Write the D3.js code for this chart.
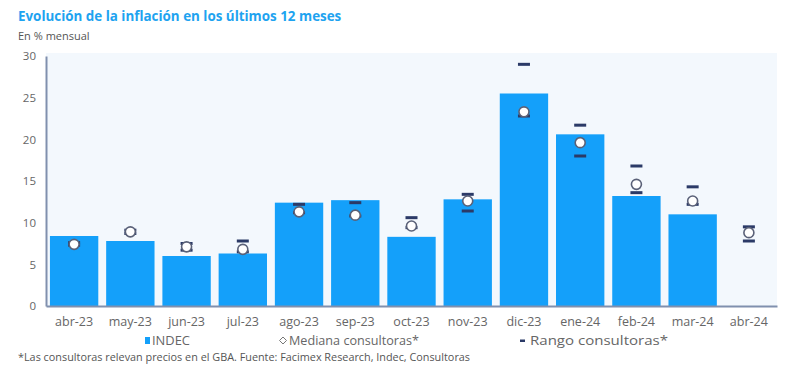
<!DOCTYPE html>
<html><head><meta charset="utf-8">
<script src="https://cdn.jsdelivr.net/npm/d3@7"></script>
<style>body{margin:0;background:#fff;}svg{display:block;font-family:"Open Sans",sans-serif;}</style>
</head><body><svg id="c" width="800" height="372"></svg>
<script>
const months = ["abr-23","may-23","jun-23","jul-23","ago-23","sep-23","oct-23","nov-23","dic-23","ene-24","feb-24","mar-24","abr-24"];
const indec = [8.4,7.8,6.0,6.3,12.4,12.7,8.3,12.8,25.5,20.6,13.2,11.0,null];
const mediana = [7.4,8.9,7.1,6.8,11.3,10.9,9.6,12.6,23.3,19.6,14.6,12.6,8.8];
const rangoMax = [7.6,9.1,7.5,7.8,12.2,12.4,10.6,13.4,29.0,21.7,16.8,14.3,9.5];
const rangoMin = [7.3,8.7,6.7,6.5,11.2,10.8,9.4,11.4,22.8,18.0,13.6,12.2,7.8];
const yTicks = [0,5,10,15,20,25,30];

const svg = d3.select("#c");
const L=46,R=777,T=56,B=306;
const x = d3.scaleBand().domain(months).range([L,R]).paddingInner(0.14).paddingOuter(0.07);
const y = d3.scaleLinear().domain([0,30]).range([B,T]);
const navy="#2b3a67", blue="#14a0fa", grey="#666";

svg.append("rect").attr("x",L).attr("y",T-3).attr("width",R-L).attr("height",B-T+3).attr("fill","#f3f8fd");

svg.append("text").attr("x",18).attr("y",21).attr("fill","#1ea3f0").attr("font-weight",700).attr("font-size",13.4).text("Evolución de la inflación en los últimos 12 meses");
svg.append("text").attr("x",18).attr("y",40).attr("fill","#555").attr("font-size",11).text("En % mensual");

// y axis
const ya = svg.append("g").attr("transform",`translate(${L},0)`).call(d3.axisLeft(y).tickValues(yTicks).tickSize(0).tickPadding(10));
ya.select(".domain").attr("stroke","#8090ae").attr("stroke-width",2);
ya.selectAll("text").attr("fill",grey).attr("font-size",11.5).attr("font-family","Open Sans, sans-serif");

// bars
svg.append("g").selectAll("rect").data(months.map((m,i)=>({m,v:indec[i]})).filter(d=>d.v!=null))
  .join("rect").attr("x",d=>x(d.m)).attr("width",x.bandwidth()).attr("y",d=>y(d.v)).attr("height",d=>y(0)-y(d.v)).attr("fill",blue);

// x axis
const xa = svg.append("g").attr("transform",`translate(0,${B})`).call(d3.axisBottom(x).tickSize(0).tickPadding(11));
xa.select(".domain").attr("stroke","#8090ae").attr("stroke-width",2);
xa.selectAll("text").attr("fill",grey).attr("font-size",12.5).attr("font-family","Open Sans, sans-serif");

// range marks
const rg = svg.append("g");
months.forEach((m,i)=>{
  const cx = x(m)+x.bandwidth()/2;
  [rangoMax[i],rangoMin[i]].forEach(v=>{
    rg.append("rect").attr("x",cx-6).attr("y",y(v)-1.5).attr("width",12).attr("height",3).attr("fill",navy);
  });
});
// median circles
svg.append("g").selectAll("circle").data(months.map((m,i)=>({m,v:mediana[i]})))
  .join("circle").attr("cx",d=>x(d.m)+x.bandwidth()/2).attr("cy",d=>y(d.v)).attr("r",5)
  .attr("fill","#fff").attr("stroke","#5a6178").attr("stroke-width",1.6);

// legend
const lg = svg.append("g").attr("font-size",12.5).attr("fill",grey);
lg.append("rect").attr("x",145).attr("y",337).attr("width",5).attr("height",7).attr("fill",blue);
lg.append("text").attr("x",152).attr("y",345).attr("fill",grey).attr("textLength",38).attr("lengthAdjust","spacingAndGlyphs").text("INDEC");
lg.append("path").attr("d","M283,337 L286.5,340.5 L283,344 L279.5,340.5 Z").attr("fill","none").attr("stroke","#777").attr("stroke-width",1);
lg.append("text").attr("x",289).attr("y",345).attr("fill",grey).attr("textLength",130).attr("lengthAdjust","spacingAndGlyphs").text("Mediana consultoras*");
lg.append("rect").attr("x",520).attr("y",339.5).attr("width",5).attr("height",2.5).attr("fill",navy);
lg.append("text").attr("x",530).attr("y",345).attr("fill",grey).attr("textLength",138).attr("lengthAdjust","spacingAndGlyphs").text("Rango consultoras*");

svg.append("text").attr("x",18).attr("y",361).attr("fill","#555").attr("font-size",10).attr("textLength",452).attr("lengthAdjust","spacingAndGlyphs").text("*Las consultoras relevan precios en el GBA. Fuente: Facimex Research, Indec, Consultoras");
</script></body></html>
